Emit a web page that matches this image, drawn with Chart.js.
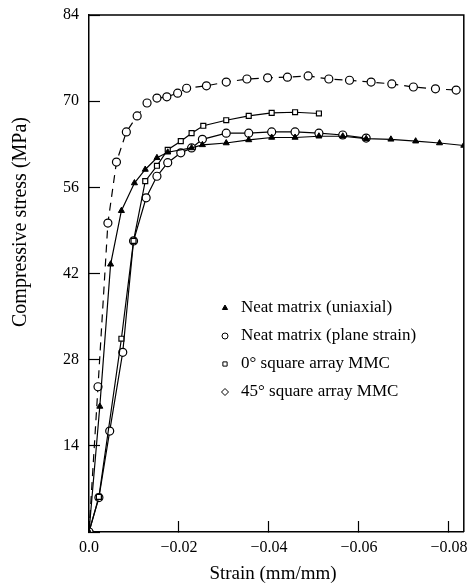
<!DOCTYPE html>
<html>
<head>
<meta charset="utf-8">
<script src="https://cdn.jsdelivr.net/npm/chart.js@4.4.0/dist/chart.umd.min.js"></script>
<style>
  html, body { margin: 0; padding: 0; background: #fff; }
  canvas { display: block; }
</style>
</head>
<body>
<canvas id="stressChart" width="469" height="584"></canvas>
<script>
// Valores (deformacion en mm/mm, tension en MPa)
var uniaxialStrain = [0, -0.0024, -0.0048, -0.0072, -0.0101, -0.0125, -0.0151, -0.0175, -0.0228, -0.0252, -0.0305, -0.0355, -0.0406, -0.0458, -0.0511, -0.0564, -0.0616, -0.0671, -0.0726, -0.0779, -0.0833];
var uniaxialStress = [0, 20.4, 43.5, 52.2, 56.7, 58.9, 60.8, 61.7, 62.4, 62.9, 63.2, 63.7, 64.1, 64.1, 64.3, 64.3, 63.9, 63.8, 63.5, 63.2, 62.8];

var planeStrain = [0, -0.0020, -0.0042, -0.0061, -0.0083, -0.0107, -0.0129, -0.0151, -0.0173, -0.0197, -0.0217, -0.0261, -0.0305, -0.0351, -0.0397, -0.0441, -0.0487, -0.0533, -0.0579, -0.0627, -0.0673, -0.0721, -0.0770, -0.0816];
var planeStress = [0, 23.6, 50.2, 60.1, 65.0, 67.6, 69.7, 70.5, 70.7, 71.3, 72.1, 72.5, 73.1, 73.6, 73.8, 73.9, 74.1, 73.6, 73.4, 73.1, 72.8, 72.3, 72.0, 71.8];

var square0Strain = [0, -0.0022, -0.0072, -0.0099, -0.0125, -0.0151, -0.0175, -0.0204, -0.0228, -0.0254, -0.0305, -0.0355, -0.0406, -0.0458, -0.0511];
var square0Stress = [0, 5.7, 31.4, 47.3, 57.0, 59.5, 62.1, 63.5, 64.8, 66.0, 66.9, 67.6, 68.1, 68.2, 68.0];

var square45Strain = [0, -0.0022, -0.0046, -0.0075, -0.0099, -0.0127, -0.0151, -0.0175, -0.0204, -0.0228, -0.0252, -0.0305, -0.0355, -0.0406, -0.0458, -0.0511, -0.0564, -0.0616];
var square45Stress = [0, 5.6, 16.4, 29.2, 47.3, 54.3, 57.8, 60.0, 61.6, 62.4, 63.8, 64.8, 64.8, 65.0, 65.0, 64.8, 64.5, 64.0];

var seriesNames = ['Neat matrix (uniaxial)', 'Neat matrix (plane strain)', '0\u00b0 square array MMC', '45\u00b0 square array MMC'];
var xTickValues = [0, -0.02, -0.04, -0.06, -0.08];
var yTickValues = [0, 14, 28, 42, 56, 70, 84];

function toPoints(xs, ys) {
    return xs.map(function (x, i) { return { x: x, y: ys[i] }; });
}

var serif = '"Liberation Serif", "Times New Roman", serif';

// Leyenda dibujada dentro del area del grafico, como en la figura
var legendMarks = [
    { pointStyle: 'triangle', radius: 3, fill: '#000' },
    { pointStyle: 'circle', radius: 3, fill: '#fff' },
    { pointStyle: 'rect', radius: 3, fill: '#fff' },
    { pointStyle: 'rectRot', radius: 3.5, fill: '#fff' }
];

var framePlugin = {
    id: 'frameAndLegend',
    afterDraw: function (chart) {
        var ctx = chart.ctx;
        var area = chart.chartArea;
        ctx.save();
        ctx.strokeStyle = '#000';
        ctx.lineWidth = 1.5;
        ctx.beginPath();
        ctx.moveTo(area.left, area.top);
        ctx.lineTo(area.right, area.top);
        ctx.lineTo(area.right, area.bottom);
        ctx.stroke();

        // titulos de los ejes
        ctx.fillStyle = '#000';
        ctx.textAlign = 'center';
        ctx.textBaseline = 'middle';
        ctx.font = '19px ' + serif;
        ctx.fillText('Strain (mm/mm)', 273, 574);
        ctx.font = '20px ' + serif;
        ctx.translate(21, 222);
        ctx.rotate(-Math.PI / 2);
        ctx.fillText('Compressive stress (MPa)', 0, 0);
        ctx.restore();

        ctx.save();
        ctx.font = '17px ' + serif;
        ctx.textAlign = 'left';
        ctx.textBaseline = 'middle';
        for (var i = 0; i < seriesNames.length; i++) {
            var y = 308 + i * 28;
            var m = legendMarks[i];
            ctx.strokeStyle = '#000';
            ctx.fillStyle = m.fill;
            ctx.lineWidth = 1;
            Chart.helpers.drawPoint(ctx, { pointStyle: m.pointStyle, radius: m.radius, rotation: 0, borderWidth: 1 }, 225, y);
            ctx.fillStyle = '#000';
            ctx.fillText(seriesNames[i], 241, y);
        }
        ctx.restore();
    }
};

var ctx = document.getElementById('stressChart').getContext('2d');
var stressChart = new Chart(ctx, {
    type: 'line',
    data: {
        datasets: [{
            label: seriesNames[0],
            data: toPoints(uniaxialStrain, uniaxialStress),
            borderColor: '#000',
            backgroundColor: '#000',
            borderWidth: 1.2,
            pointStyle: 'triangle',
            pointRadius: 3.5,
            pointBorderWidth: 1
        }, {
            label: seriesNames[1],
            data: toPoints(planeStrain, planeStress),
            borderColor: '#000',
            backgroundColor: '#fff',
            borderWidth: 1.2,
            borderDash: [8, 6],
            pointStyle: 'circle',
            pointRadius: 4,
            pointBorderWidth: 1.2
        }, {
            label: seriesNames[2],
            data: toPoints(square0Strain, square0Stress),
            borderColor: '#000',
            backgroundColor: '#fff',
            borderWidth: 1.2,
            pointStyle: 'rect',
            pointRadius: 3.5,
            pointBorderWidth: 1.2
        }, {
            label: seriesNames[3],
            data: toPoints(square45Strain, square45Stress),
            borderColor: '#000',
            backgroundColor: '#fff',
            borderWidth: 1.2,
            pointStyle: 'circle',
            pointRadius: 4,
            pointBorderWidth: 1.2
        }]
    },
    options: {
        responsive: false,
        animation: false,
        devicePixelRatio: 1,
        layout: { padding: { top: 15, right: 1, left: 0, bottom: 0 } },
        elements: { line: { tension: 0 } },
        plugins: {
            legend: { display: false },
            tooltip: { enabled: false }
        },
        scales: {
            x: {
                type: 'linear',
                reverse: true,
                min: -0.0833,
                max: 0,
                afterBuildTicks: function (scale) {
                    scale.ticks = xTickValues.map(function (v) { return { value: v }; });
                },
                afterFit: function (scale) {
                    scale.height = 52;
                    scale.paddingLeft = 0;
                    scale.paddingRight = 0;
                },
                grid: { drawOnChartArea: false, tickLength: -11, color: '#000', tickWidth: 1.2 },
                border: { color: '#000', width: 1.5 },
                ticks: {
                    color: '#000',
                    padding: 17,
                    maxRotation: 0,
                    autoSkip: false,
                    font: { family: serif, size: 16 },
                    callback: function (value) {
                        return value === 0 ? '0.0' : '\u2212' + Math.abs(value).toFixed(2);
                    }
                }
            },
            y: {
                type: 'linear',
                min: 0,
                max: 84,
                afterBuildTicks: function (scale) {
                    scale.ticks = yTickValues.map(function (v) { return { value: v }; });
                },
                afterFit: function (scale) {
                    scale.width = 89;
                    scale.paddingTop = 0;
                    scale.paddingBottom = 0;
                },
                grid: { drawOnChartArea: false, tickLength: -11, color: '#000', tickWidth: 1.2 },
                border: { color: '#000', width: 1.5 },
                ticks: {
                    color: '#000',
                    padding: 21,
                    autoSkip: false,
                    font: { family: serif, size: 16 },
                    callback: function (value) {
                        return value === 0 ? '' : value;
                    }
                }
            }
        }
    },
    plugins: [framePlugin]
});
</script>
</body>
</html>
